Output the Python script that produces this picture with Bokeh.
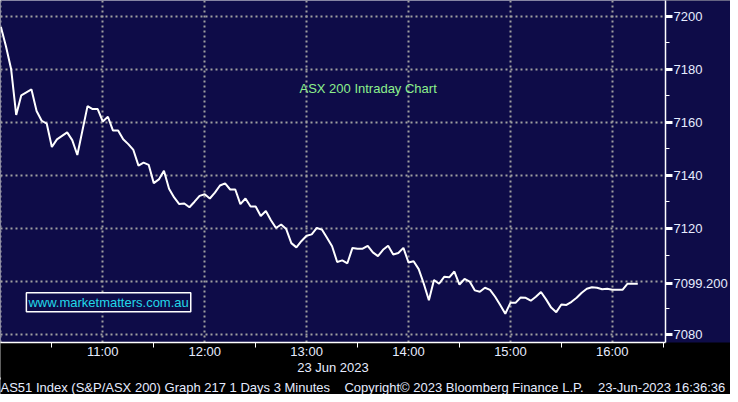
from bokeh.plotting import figure
from bokeh.models import FixedTicker, Label, Title, Range1d, ColumnDataSource
from bokeh.embed import file_html
from bokeh.resources import INLINE

# ---- data ----
minutes_after_open = [0, 3, 6, 9, 12, 18, 21, 24, 27, 30, 33, 39, 42, 45, 51, 54, 57, 60, 63, 66,
                      69, 72, 75, 78, 81, 84, 87, 90, 93, 96, 99, 102, 105, 108, 111, 114, 117, 120,
                      123, 126, 129, 132, 135, 138, 141, 144, 147, 150, 153, 156, 159, 162, 165, 168,
                      171, 174, 177, 180, 183, 186, 189, 192, 195, 198, 201, 204, 207, 210, 213, 216,
                      219, 222, 225, 228, 231, 234, 237, 240, 243, 246, 249, 252, 255, 258, 261, 264,
                      267, 270, 273, 276, 279, 282, 285, 288, 291, 294, 297, 300, 303, 306, 309, 312,
                      315, 318, 321, 324, 327, 330, 333, 336, 339, 342, 345, 348, 351, 354, 357, 360,
                      366, 369, 375]
asx200 = [7195.9, 7188.6, 7180.1, 7162.8, 7170.2, 7172.4, 7164.3, 7160.6, 7159.5, 7150.7,
          7153.6, 7156.2, 7153.3, 7147.7, 7166.1, 7165.0, 7165.0, 7160.3, 7162.1, 7156.9,
          7156.9, 7153.6, 7151.8, 7149.6, 7143.7, 7144.8, 7144.0, 7137.1, 7138.5, 7141.8,
          7135.0, 7131.7, 7129.2, 7129.4, 7128.0, 7130.1, 7132.3, 7132.9, 7131.3, 7133.5,
          7136.2, 7137.0, 7134.7, 7134.7, 7129.2, 7131.3, 7128.3, 7128.3, 7124.7, 7126.6,
          7123.1, 7120.2, 7121.5, 7119.8, 7114.5, 7112.9, 7115.3, 7117.3, 7117.8, 7120.2,
          7119.6, 7116.5, 7113.3, 7107.4, 7108.0, 7106.9, 7112.7, 7112.4, 7112.4, 7113.5,
          7111.0, 7109.6, 7112.0, 7113.5, 7110.2, 7110.8, 7112.7, 7107.2, 7107.7, 7104.7,
          7099.2, 7093.0, 7100.6, 7099.2, 7101.8, 7101.6, 7103.8, 7098.9, 7101.0, 7100.0,
          7096.7, 7096.2, 7097.7, 7096.9, 7094.3, 7091.2, 7087.9, 7092.0, 7092.0, 7094.0,
          7093.9, 7092.8, 7094.3, 7096.1, 7093.3, 7090.2, 7088.5, 7091.4, 7091.2, 7092.4,
          7093.9, 7095.8, 7097.3, 7097.9, 7097.7, 7097.1, 7097.3, 7096.9, 7096.9, 7099.2,
          7099.2]
hour_ticks = [11, 12, 13, 14, 15, 16]
hour_labels = ["11:00", "12:00", "13:00", "14:00", "15:00", "16:00"]
grid_hours = [10, 11, 12, 13, 14, 15, 16]
half_hours = [10.5, 11.5, 12.5, 13.5, 14.5, 15.5, 16.5]
price_grid = [7080, 7100, 7120, 7140, 7160, 7180, 7200]
price_labelled = [7080, 7120, 7140, 7160, 7180, 7200]
price_minor = [7090, 7110, 7130, 7150, 7170, 7190]
date_label = "23 Jun 2023"
chart_note = "ASX 200 Intraday Chart"
site_note = "www.marketmatters.com.au"
footer_parts = ["AS51 Index (S&P/ASX 200) Graph 217 1 Days 3 Minutes",
                "Copyright\u00a9 2023 Bloomberg Finance L.P.",
                "23-Jun-2023 16:36:36"]

NAVY = "#0e0c48"
LABEL = "#e6ecff"
FONT = "Liberation Sans"

hours = [10 + m / 60 for m in minutes_after_open]
last_price = asx200[-1]
src = ColumnDataSource(dict(t=hours, v=asx200))

p = figure(width=730, height=394, output_backend="svg", toolbar_location=None,
           x_range=Range1d(9.996, 16.522), y_range=Range1d(7077.06, 7205.9),
           y_axis_location="right",
           min_border_left=0, min_border_top=0, min_border_right=64, min_border_bottom=52)
p.background_fill_color = NAVY
p.border_fill_color = "black"
p.outline_line_color = None

# grids
p.xgrid.ticker = FixedTicker(ticks=grid_hours)
p.ygrid.ticker = FixedTicker(ticks=price_grid)
for g in (p.xgrid, p.ygrid):
    g.grid_line_color = "#a0a0a0"
    g.grid_line_dash = "2 3"
    g.grid_line_width = 2

# x axis
xa = p.xaxis[0]
xa.ticker = FixedTicker(ticks=hour_ticks, minor_ticks=half_hours)
xa.major_label_overrides = {t: l for t, l in zip(hour_ticks, hour_labels)}
xa.axis_line_color = "white"
xa.axis_line_width = 1.5
xa.major_tick_out = 0
xa.major_tick_in = 0
xa.minor_tick_out = 5
xa.minor_tick_in = 0
xa.minor_tick_line_color = "white"
xa.major_label_standoff = -4
xa.major_label_text_color = LABEL
xa.major_label_text_font = FONT
xa.major_label_text_font_size = "13px"
xa.axis_label = date_label
xa.axis_label_text_color = LABEL
xa.axis_label_text_font = FONT
xa.axis_label_text_font_size = "13px"
xa.axis_label_text_font_style = "normal"
xa.axis_label_standoff = -2
xa.background_fill_color = "black"

# y axis (right); last price replaces the 7100 label as in the reference
ya = p.yaxis[0]
ya.ticker = FixedTicker(ticks=price_labelled + [last_price], minor_ticks=price_minor)
ya.major_label_overrides = {last_price: f"{last_price:.3f}"}
ya.axis_line_color = "white"
ya.axis_line_width = 1.5
ya.major_tick_line_color = "white"
ya.major_tick_line_width = 3
ya.major_tick_out = 7
ya.major_tick_in = 0
ya.minor_tick_line_color = "white"
ya.minor_tick_out = 4
ya.minor_tick_in = 0
ya.major_label_standoff = 1
ya.major_label_text_color = LABEL
ya.major_label_text_font = FONT
ya.major_label_text_font_size = "13px"
ya.major_label_orientation = "horizontal"
ya.background_fill_color = NAVY

# price line
p.line("t", "v", source=src, line_color="white", line_width=2)

# annotations
p.add_layout(Label(x=12.93, y=7172.8, text=chart_note, text_color="#8cf08c",
                   text_font=FONT, text_font_size="13px", text_baseline="middle"))
p.add_layout(Label(x=10.25, y=7092.2, text=site_note, text_color="#22d8e8",
                   text_font=FONT, text_font_size="13px", text_baseline="middle",
                   border_line_color="white", border_line_width=1.5,
                   background_fill_color=NAVY, padding=2))

sep = "\u00a0" * 4
p.add_layout(Title(text=sep.join(footer_parts), align="left", text_color=LABEL,
                   text_font=FONT, text_font_size="13px", text_font_style="normal",
                   background_fill_color="black", standoff=0, offset=0), "below")

open("out.html", "w").write(file_html(p, INLINE))
